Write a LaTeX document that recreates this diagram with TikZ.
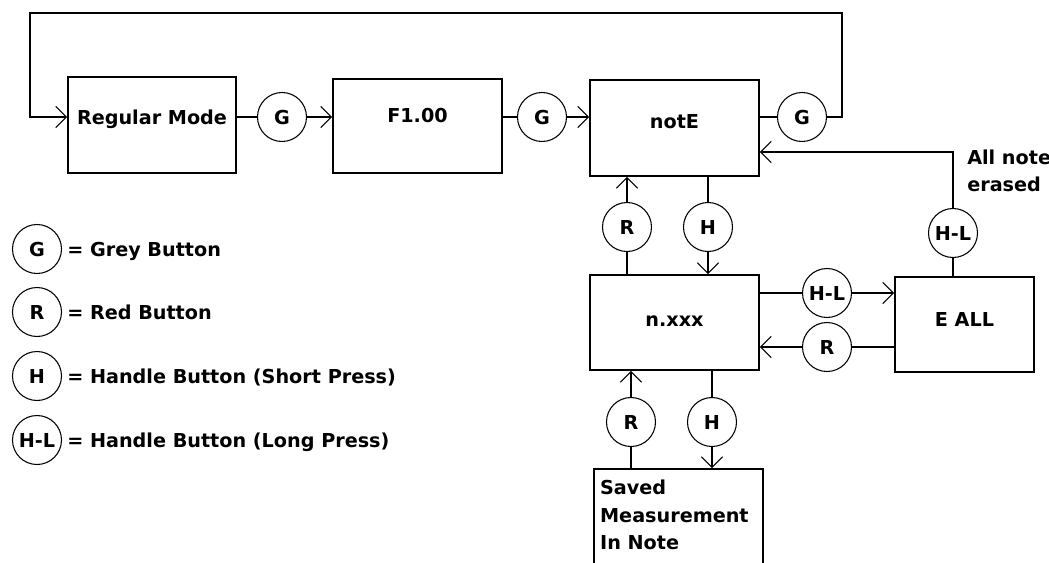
\documentclass[tikz,border=0pt]{standalone}
\usepackage{fontspec}
\setmainfont{DejaVu Sans}
\usetikzlibrary{arrows.meta}
\begin{document}
\begin{tikzpicture}[x=0.75pt,y=-0.75pt,
  every node/.style={font=\fontsize{14.4}{20.6}\selectfont\bfseries},
  box/.style={draw, line width=1.2pt, rectangle, inner sep=0pt, text height=10.5pt, text depth=0pt},
  btn/.style={draw, circle, line width=0.8pt, minimum size=36.75pt, inner sep=0pt, text height=10.5pt, text depth=0pt},
  lbl/.style={anchor=west, inner sep=0pt, text height=10.5pt, text depth=0pt},
  wire/.style={line width=1.2pt},
  arr/.style={wire, -{Straight Barb[length=8pt,width=16pt,line width=0.8pt]}}]
\useasboundingbox (0,0) rectangle (1049,562);

% boxes
\node[box, minimum width=126pt, minimum height=72pt, text depth=12pt] (rm) at (152,125) {Regular Mode};
\node[box, minimum width=126.75pt, minimum height=70.5pt, text depth=16pt] (f1) at (417.5,126) {F1.00};
\node[box, minimum width=126.75pt, minimum height=72pt, text depth=10pt] (ne) at (674.5,128) {notE};
\node[box, minimum width=126.75pt, minimum height=71.25pt, text depth=4pt] (nx) at (674.5,322.5) {n.xxx};
\node[box, minimum width=104.25pt, minimum height=71.25pt, text depth=7pt] (ea) at (964.5,324.5) {E ALL};
\node[box, minimum width=126.75pt, minimum height=75.75pt] (sv) at (678.5,519.5) {};
\node[anchor=north west, align=left, inner sep=0pt] (svt) at ([xshift=5pt,yshift=-8.6pt]sv.north west) {Saved\\Measurement\\In Note};

% buttons
\node[btn] (g1) at (282,117) {G};
\node[btn] (g2) at (542,117) {G};
\node[btn] (g3) at (802,117) {G};
\node[btn] (hl1) at (953,233) {H-L};
\node[btn] (r1) at (627,227) {R};
\node[btn] (h1) at (708,227) {H};
\node[btn] (hl2) at (827,293) {H-L};
\node[btn] (r2) at (827,347) {R};
\node[btn] (r3) at (631,422) {R};
\node[btn] (h3) at (712,422) {H};

\node[anchor=west, align=left, inner sep=0pt] (note) at (967,171) {All note\\erased};

% legend
\node[btn] (lg) at (37,249) {G};   \node[lbl] (lgt) at (67,249) {= Grey Button};
\node[btn] (lr) at (37,312) {R};   \node[lbl] (lrt) at (67,312) {= Red Button};
\node[btn] (lh) at (37,376) {H};   \node[lbl] (lht) at (67,376) {= Handle Button (Short Press)};
\node[btn] (lhl) at (37,440) {H-L}; \node[lbl] (lhlt) at (67,440) {= Handle Button (Long Press)};

% connectors
\coordinate (tr) at (842,13);
\coordinate (tl) at (30,13);
\draw[arr] (g3.east) -| (tr) -- (tl) |- (g1 -| rm.west);

\draw[wire] (g1.west) -- (g1 -| rm.east);
\draw[arr] (g1.east) -- (g1 -| f1.west);
\draw[wire] (g2.west) -- (g2 -| f1.east);
\draw[arr] (g2.east) -- (g2 -| ne.west);
\draw[wire] (g3.west) -- (g3 -| ne.east);

\draw[wire] (r1.south) -- (r1 |- nx.north);
\draw[arr] (r1.north) -- (r1 |- ne.south);
\draw[wire] (h1.north) -- (h1 |- ne.south);
\draw[arr] (h1.south) -- (h1 |- nx.north);

\draw[wire] (hl2.west) -- (hl2 -| nx.east);
\draw[arr] (hl2.east) -- (hl2 -| ea.west);
\draw[wire] (r2.east) -- (r2 -| ea.west);
\draw[arr] (r2.west) -- (r2 -| nx.east);

\draw[wire] (r3.south) -- (r3 |- sv.north);
\draw[arr] (r3.north) -- (r3 |- nx.south);
\draw[wire] (h3.north) -- (h3 |- nx.south);
\draw[arr] (h3.south) -- (h3 |- sv.north);

\draw[wire] (hl1.south) -- (hl1 |- ea.north);
\draw[arr] (hl1.north) |- ([yshift=-18pt]ne.east);
\end{tikzpicture}
\end{document}
